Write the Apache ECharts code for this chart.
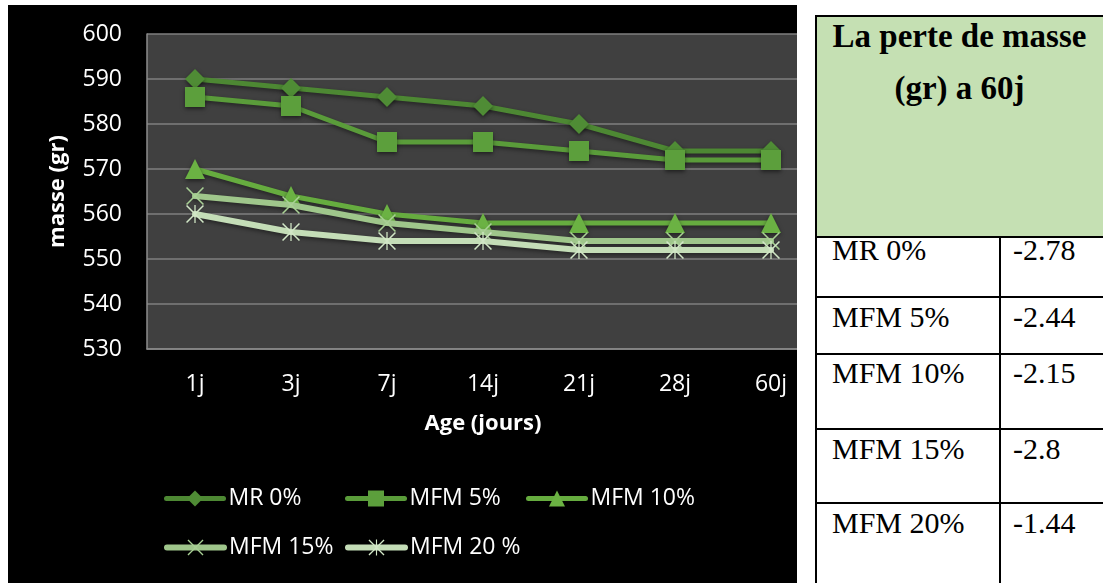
<!DOCTYPE html>
<html>
<head>
<meta charset="utf-8">
<script src="https://cdn.jsdelivr.net/npm/echarts@6/dist/echarts.min.js"></script>
<style>
  html, body { margin: 0; padding: 0; background: #ffffff; width: 1103px; height: 583px; overflow: hidden; position: relative; }
  #chart { position: absolute; left: 8px; top: 5px; width: 830px; height: 578px; }
  #cover { position: absolute; left: 797px; top: 0; width: 306px; height: 583px; background: #ffffff; }
  #table { position: absolute; left: 0; top: 0; width: 1103px; height: 583px; font-family: "Liberation Serif", "DejaVu Serif", serif; color: #000; }
  .hl { position: absolute; background: #000; height: 2px; }
  .vl { position: absolute; background: #000; width: 2px; }
  .cell { position: absolute; white-space: nowrap; line-height: 30px; font-size: 30px; }
</style>
</head>
<body>
<div id="chart"></div>
<div id="cover"></div>
<div id="table"></div>
<script>
// Mass (gr) over age for each mix
const categories = ['1j', '3j', '7j', '14j', '21j', '28j', '60j'];
const seriesNames = ['MR 0%', 'MFM 5%', 'MFM 10%', 'MFM 15%', 'MFM 20 %'];
const mr0   = [590, 588, 586, 584, 580, 574, 574];
const mfm5  = [586, 584, 576, 576, 574, 572, 572];
const mfm10 = [570, 564, 560, 558, 558, 558, 558];
const mfm15 = [564, 562, 558, 556, 554, 554, 554];
const mfm20 = [560, 556, 554, 554, 552, 552, 552];
const yMin = 530, yMax = 600, yStep = 10;

// Mass loss at 60 days
const lossHeader = ['La perte de masse', '(gr) a 60j'];
const lossLabels = ['MR 0%', 'MFM 5%', 'MFM 10%', 'MFM 15%', 'MFM 20%'];
const lossValues = ['-2.78', '-2.44', '-2.15', '-2.8', '-1.44'];

const FONT = '"Open Sans", "Noto Sans", sans-serif';
const lineColors   = ['#4d8833', '#5a9c3a', '#66ac3f', '#9fc68b', '#c4ddb7'];
const markerColors = ['#4f8c35', '#5c9f3c', '#6bb243', '#a9d195', '#d2e7c7'];
const X_PATH = 'path://M0 1.2L1.2 0L20 18.8L18.8 20ZM18.8 0L20 1.2L1.2 20L0 18.8Z';
const STAR_PATH = 'path://M0 1.2L1.2 0L20 18.8L18.8 20ZM18.8 0L20 1.2L1.2 20L0 18.8ZM9.3 0H10.7V20H9.3Z';
const symbols = ['diamond', 'rect', 'triangle', X_PATH, STAR_PATH];
const symbolSizes = [20, 20, 20, 18, 18];
const values = [mr0, mfm5, mfm10, mfm15, mfm20];

const series = values.map((v, i) => ({
  name: seriesNames[i],
  type: 'line',
  data: v,
  symbol: symbols[i],
  symbolSize: symbolSizes[i],
  showAllSymbol: true,
  lineStyle: {
    color: lineColors[i], width: i >= 3 ? 6 : 5, cap: 'round', join: 'round',
    shadowColor: 'rgba(0,0,0,0.45)', shadowBlur: 4, shadowOffsetY: 2
  },
  itemStyle: {
    color: markerColors[i], borderWidth: 0,
    shadowColor: i < 3 ? 'rgba(0,0,0,0.5)' : 'rgba(0,0,0,0)', shadowBlur: 4, shadowOffsetY: 2
  },
  emphasis: { disabled: true },
  animation: false,
  z: 2 + i
}));

const legendPos = [[156, 482], [337, 482], [518, 482], [156, 531], [337, 531]];
const legends = seriesNames.map((n, i) => ({
  data: [n],
  left: legendPos[i][0],
  top: legendPos[i][1],
  padding: 0,
  itemWidth: 57,
  itemHeight: 20,
  selectedMode: false,
  lineStyle: { width: i >= 3 ? 6 : 5, cap: 'round', shadowBlur: 0 },
  itemStyle: { shadowBlur: 0 },
  textStyle: { color: '#ffffff', fontSize: 23, fontFamily: FONT }
}));

const chart = echarts.init(document.getElementById('chart'), null, { renderer: 'canvas' });
chart.setOption({
  backgroundColor: '#000000',
  animation: false,
  grid: { left: 139, top: 29, width: 672, height: 315, show: true, backgroundColor: '#404040', borderWidth: 0 },
  legend: legends,
  xAxis: {
    type: 'category',
    data: categories,
    boundaryGap: true,
    axisLine: { lineStyle: { color: '#8c8c8c', width: 1.5 } },
    axisTick: { show: false },
    axisLabel: { color: '#ffffff', fontSize: 23, fontFamily: FONT, margin: 24 },
    name: 'Age (jours)',
    nameLocation: 'middle',
    nameGap: 64,
    nameTextStyle: { color: '#ffffff', fontSize: 22, fontWeight: 'bold', fontFamily: FONT }
  },
  yAxis: {
    type: 'value',
    min: yMin, max: yMax, interval: yStep,
    axisLine: { show: true, lineStyle: { color: '#8c8c8c', width: 1.5 } },
    axisTick: { show: false },
    splitLine: { lineStyle: { color: '#7f7f7f', width: 1.5 } },
    axisLabel: { color: '#ffffff', fontSize: 23, fontFamily: FONT, margin: 25 },
    name: 'masse (gr)',
    nameLocation: 'middle',
    nameGap: 78,
    nameTextStyle: { color: '#ffffff', fontSize: 22, fontWeight: 'bold', fontFamily: FONT }
  },
  series: series
});

// Table of mass loss, drawn beside the chart
(function buildTable() {
  const t = document.getElementById('table');
  const add = (cls, css, text) => {
    const d = document.createElement('div');
    d.className = cls;
    Object.assign(d.style, css);
    if (text !== undefined) d.textContent = text;
    t.appendChild(d);
    return d;
  };
  const L = 815, R = 1106, colX = 999, top = 15, headBottom = 236;
  const rowLines = [296, 353, 428, 502];
  // header background
  add('', { position: 'absolute', left: L + 'px', top: top + 'px', width: (R - L) + 'px', height: (headBottom - top) + 'px', background: '#c5e0b3' });
  // header text
  const hb = [48, 100];
  lossHeader.forEach((s, i) => {
    add('cell', { left: L + 'px', width: (R - L - 2) + 'px', textAlign: 'center', fontWeight: 'bold', fontSize: '33px', lineHeight: '33px', top: (hb[i] - 28) + 'px' }, s);
  });
  // borders
  add('hl', { left: L + 'px', width: (R - L) + 'px', top: top + 'px' });
  add('hl', { left: L + 'px', width: (R - L) + 'px', top: headBottom + 'px' });
  rowLines.forEach(y => add('hl', { left: L + 'px', width: (R - L) + 'px', top: y + 'px' }));
  add('vl', { left: L + 'px', top: top + 'px', height: (600 - top) + 'px' });
  add('vl', { left: colX + 'px', top: headBottom + 'px', height: (600 - headBottom) + 'px' });
  // rows
  const rowTops = [headBottom, ...rowLines];
  const baseOff = [24, 31, 30, 31, 31];
  lossLabels.forEach((lab, i) => {
    const b = rowTops[i] + baseOff[i];
    add('cell', { left: '832px', top: (b - 25.1) + 'px' }, lab);
    add('cell', { left: '1013px', top: (b - 25.1) + 'px' }, lossValues[i]);
  });
})();
</script>
</body>
</html>
